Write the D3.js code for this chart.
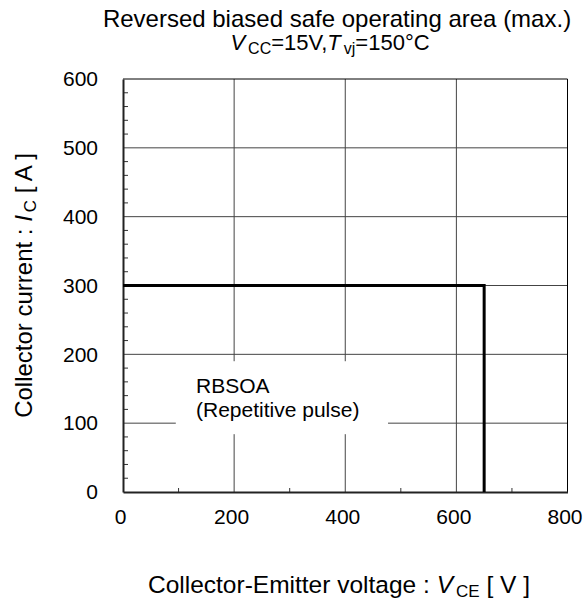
<!DOCTYPE html>
<html>
<head>
<meta charset="utf-8">
<script src="https://cdn.jsdelivr.net/npm/d3@7"></script>
<style>
  html, body { margin: 0; padding: 0; background: #fff; }
  svg { display: block; font-family: "Liberation Sans", Arial, sans-serif; }
</style>
</head>
<body>
<svg id="chart" width="584" height="604"></svg>
<script>
// ---- data ----
const xTickValues = [0, 200, 400, 600, 800];
const yTickValues = [0, 100, 200, 300, 400, 500, 600];
const xMinorTicks = [100, 300, 500, 700];
const yMinorTicks = d3.range(0, 600, 20).filter(v => v % 100 !== 0);
const rbsoaVoltage = [0, 650, 650];   // V_CE [V]
const rbsoaCurrent = [300, 300, 0];   // I_C [A]
const titleLine = "Reversed biased safe operating area (max.)";
const labelLines = ["RBSOA", "(Repetitive pulse)"];

// ---- layout ----
const svg = d3.select("#chart");
const L = 123, R = 567.5, T = 79, B = 492;
const x = d3.scaleLinear().domain([0, 800]).range([L, R]);
const y = d3.scaleLinear().domain([0, 600]).range([B, T]);

// gridlines
const grid = svg.append("g");
grid.selectAll("line.h").data(yTickValues.filter(v => v > 0 && v < 600)).join("line")
  .attr("x1", L).attr("x2", R).attr("y1", d => y(d)).attr("y2", d => y(d))
  .attr("stroke", "#444").attr("stroke-width", 1);
grid.selectAll("line.v").data(xTickValues.filter(v => v > 0 && v < 800)).join("line")
  .attr("y1", T).attr("y2", B).attr("x1", d => x(d)).attr("x2", d => x(d))
  .attr("stroke", "#444").attr("stroke-width", 1);

// white box behind annotation
svg.append("rect")
  .attr("x", x(95)).attr("y", y(190))
  .attr("width", x(477) - x(95)).attr("height", y(84) - y(190))
  .attr("fill", "#fff");

// border top / right
svg.append("line").attr("x1", L).attr("x2", R).attr("y1", T).attr("y2", T).attr("stroke", "#000").attr("stroke-width", 1);
svg.append("line").attr("x1", R).attr("x2", R).attr("y1", T).attr("y2", B).attr("stroke", "#000").attr("stroke-width", 1);

// minor ticks
svg.selectAll("line.ym").data(yMinorTicks).join("line")
  .attr("x1", L).attr("x2", L + 5).attr("y1", d => y(d)).attr("y2", d => y(d))
  .attr("stroke", "#333").attr("stroke-width", 1);
svg.selectAll("line.xm").data(xMinorTicks).join("line")
  .attr("y1", B).attr("y2", B - 4).attr("x1", d => x(d)).attr("x2", d => x(d))
  .attr("stroke", "#333").attr("stroke-width", 1);

// axes (bottom / left lines + labels)
const xAxis = d3.axisBottom(x).tickValues(xTickValues).tickSize(0).tickPadding(17).tickFormat(d3.format("d"));
const yAxis = d3.axisLeft(y).tickValues(yTickValues).tickSize(0).tickPadding(25).tickFormat(d3.format("d"));
const gx = svg.append("g").attr("transform", `translate(0,${B})`).call(xAxis);
const gy = svg.append("g").attr("transform", `translate(${L},0)`).call(yAxis);
[gx, gy].forEach(g => {
  g.select(".domain").attr("stroke", "#222").attr("stroke-width", 2);
  g.selectAll("text").attr("font-size", 21).attr("fill", "#000")
    .attr("font-family", "Liberation Sans, Arial, sans-serif");
});
gx.selectAll("text").attr("dy", "0.71em").attr("dx", -3);

// RBSOA curve
const line = d3.line().x(d => x(d[0])).y(d => y(d[1]));
svg.append("path")
  .datum(rbsoaVoltage.map((v, i) => [v, rbsoaCurrent[i]]))
  .attr("d", line).attr("fill", "none").attr("stroke", "#000").attr("stroke-width", 3)
  .attr("stroke-linejoin", "miter");

// annotation
const ann = svg.append("text").attr("x", 196).attr("font-size", 21).attr("fill", "#000");
ann.selectAll("tspan").data(labelLines).join("tspan")
  .attr("x", 196).attr("y", (d, i) => 393 + i * 24).text(d => d);

// title
svg.append("text").attr("x", 337).attr("y", 27).attr("text-anchor", "middle")
  .attr("font-size", 24).attr("fill", "#000").text(titleLine);

// subtitle V_CC=15V, T_vj=150°C
const sub = svg.append("text").attr("x", 330).attr("y", 50).attr("text-anchor", "middle")
  .attr("font-size", 22).attr("fill", "#000");
sub.append("tspan").attr("font-style", "italic").text("V");
sub.append("tspan").attr("font-size", 16).attr("dy", 4).attr("dx", 3).text("CC");
sub.append("tspan").attr("dy", -4).text("=15V,");
sub.append("tspan").attr("font-style", "italic").text("T");
sub.append("tspan").attr("font-size", 16).attr("dy", 4).attr("dx", 3).text("vj");
sub.append("tspan").attr("dy", -4).text("=150°C");

// x-axis label
const xl = svg.append("text").attr("x", 339).attr("y", 593).attr("text-anchor", "middle")
  .attr("font-size", 24.5).attr("fill", "#000");
xl.append("tspan").text("Collector-Emitter voltage : ");
xl.append("tspan").attr("font-style", "italic").text("V");
xl.append("tspan").attr("font-size", 17).attr("dy", 4).attr("dx", 3).text("CE");
xl.append("tspan").attr("dy", -4).text(" [ V ]");

// y-axis label
const yl = svg.append("text").attr("transform", `translate(32,${(T + B) / 2}) rotate(-90)`)
  .attr("text-anchor", "middle").attr("font-size", 24).attr("fill", "#000");
yl.append("tspan").text("Collector current : ");
yl.append("tspan").attr("font-style", "italic").text("I");
yl.append("tspan").attr("font-size", 17).attr("dy", 4).attr("dx", 3).text("C");
yl.append("tspan").attr("dy", -4).text(" [ A ]");
</script>
</body>
</html>
